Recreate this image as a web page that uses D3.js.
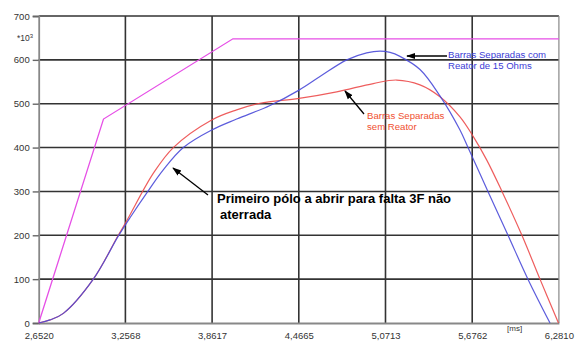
<!DOCTYPE html>
<html>
<head>
<meta charset="utf-8">
<script src="https://cdn.jsdelivr.net/npm/d3@7"></script>
<style>
  html, body { margin: 0; padding: 0; background: #fff; }
  svg { display: block; font-family: "Liberation Sans", Arial, sans-serif; }
</style>
</head>
<body>
<svg id="chart" width="576" height="342"></svg>
<script>
// Time axis ticks [ms] and their printed labels
const xTickValues = [2.6520, 3.2568, 3.8617, 4.4665, 5.0713, 5.6762, 6.2810];
const xTickLabels = ["2,6520", "3,2568", "3,8617", "4,4665", "5,0713", "5,6762", "6,2810"];
const yTickValues = [0, 100, 200, 300, 400, 500, 600, 700];

// Envelope (magenta)
const envelopeT = [2.652, 3.104, 4.007, 6.281];
const envelopeV = [0, 465, 648, 648];

// Barras Separadas com Reator de 15 Ohms (blue)
const blueT = [2.652, 2.731, 2.824, 3.033, 3.207, 3.289, 3.405, 3.521, 3.661, 3.859, 4.033, 4.266, 4.468, 4.614, 4.801, 4.940, 5.033, 5.103, 5.172, 5.312, 5.451, 5.591, 5.647, 5.786, 5.926, 6.065, 6.219];
const blueV = [0, 7, 22, 100, 198, 240, 296, 349, 400, 440, 465, 496, 531, 562, 600, 616, 620, 617, 608, 578, 518, 440, 400, 300, 200, 100, 0];

// Barras Separadas sem Reator (red)
const redT = [2.652, 2.731, 2.824, 3.033, 3.207, 3.266, 3.451, 3.591, 3.859, 4.033, 4.196, 4.468, 4.731, 4.986, 5.149, 5.312, 5.451, 5.591, 5.684, 5.777, 5.884, 6.023, 6.149, 6.278];
const redV = [0, 7, 22, 100, 200, 233, 341, 400, 463, 486, 501, 512, 527, 546, 554, 543, 516, 470, 425, 372, 300, 200, 100, 0];

const svg = d3.select("#chart");
const x = d3.scaleLinear().domain([2.652, 6.281]).range([38.7, 558.9]);
const y = d3.scaleLinear().domain([0, 700]).range([323, 16]);

// horizontal grid
svg.append("g")
  .selectAll("line").data(yTickValues.slice(1)).join("line")
  .attr("x1", x.range()[0]).attr("x2", x.range()[1])
  .attr("y1", d => y(d)).attr("y2", d => y(d))
  .attr("stroke", "#333").attr("stroke-width", 1.6);

// vertical grid
svg.append("g")
  .selectAll("line").data(xTickValues.slice(1, -1)).join("line")
  .attr("x1", d => x(d)).attr("x2", d => x(d))
  .attr("y1", y(0)).attr("y2", y(700))
  .attr("stroke", "#333").attr("stroke-width", 1.6);

// right border
svg.append("line")
  .attr("x1", x.range()[1]).attr("x2", x.range()[1])
  .attr("y1", y(0)).attr("y2", y(700))
  .attr("stroke", "#888").attr("stroke-width", 1.2);

// y axis
const yAxis = svg.append("g")
  .attr("transform", `translate(${x.range()[0]},0)`)
  .call(d3.axisLeft(y).tickValues(yTickValues).tickSize(6).tickPadding(3));
yAxis.select(".domain").attr("stroke", "#888").attr("stroke-width", 1.8);
yAxis.selectAll(".tick line").attr("stroke", "#666").attr("stroke-width", 1.4);
yAxis.selectAll(".tick text").attr("fill", "#333").style("font-size", "9.5px")
  .style("font-family", "'Liberation Sans', Arial, sans-serif");

// x axis
const xAxis = svg.append("g")
  .attr("transform", `translate(0,${y(0)})`)
  .call(d3.axisBottom(x).tickValues(xTickValues)
    .tickFormat((d, i) => xTickLabels[i]).tickSize(0).tickPadding(9));
xAxis.select(".domain").attr("stroke", "#888").attr("stroke-width", 1.8);
xAxis.selectAll(".tick text").attr("fill", "#333").style("font-size", "9.5px")
  .style("font-family", "'Liberation Sans', Arial, sans-serif");

// axis annotations
const mult = svg.append("text").attr("x", 17).attr("y", 41)
  .attr("fill", "#333").style("font-size", "8.5px").text("*10");
mult.append("tspan").attr("dy", -3).style("font-size", "6px").text("3");
svg.append("text").attr("x", 507).attr("y", 331)
  .attr("fill", "#333").style("font-size", "8px").text("[ms]");

// curves
const smooth = d3.line().x(d => x(d[0])).y(d => y(d[1])).curve(d3.curveCatmullRom.alpha(0.5));
const straight = d3.line().x(d => x(d[0])).y(d => y(d[1]));

svg.append("path").datum(envelopeT.map((t, i) => [t, envelopeV[i]]))
  .attr("d", straight).attr("fill", "none")
  .attr("stroke", "#e64fe6").attr("stroke-width", 1.3);
svg.append("path").datum(redT.map((t, i) => [t, redV[i]]))
  .attr("d", smooth).attr("fill", "none")
  .attr("stroke", "#ec4b4b").attr("stroke-width", 1.2).attr("stroke-opacity", 0.9);
svg.append("path").datum(blueT.map((t, i) => [t, blueV[i]]))
  .attr("d", smooth).attr("fill", "none")
  .attr("stroke", "#4a4ad8").attr("stroke-width", 1.2).attr("stroke-opacity", 0.9);

// arrows
const defs = svg.append("defs");
defs.append("marker").attr("id", "head")
  .attr("viewBox", "0 0 10 10").attr("refX", 9).attr("refY", 5)
  .attr("markerWidth", 7).attr("markerHeight", 7).attr("orient", "auto")
  .append("path").attr("d", "M0,1.5 L10,5 L0,8.5 Z").attr("fill", "#000");

const arrows = [
  [447, 56, 407, 56],
  [364, 114, 345, 91],
  [208, 195, 173, 168]
];
svg.append("g").selectAll("line").data(arrows).join("line")
  .attr("x1", d => d[0]).attr("y1", d => d[1])
  .attr("x2", d => d[2]).attr("y2", d => d[3])
  .attr("stroke", "#000").attr("stroke-width", 1.3)
  .attr("marker-end", "url(#head)");

// labels
const blueLbl = svg.append("text").attr("fill", "#3b3bd6").style("font-size", "9.6px");
blueLbl.append("tspan").attr("x", 448).attr("y", 58).text("Barras Separadas com");
blueLbl.append("tspan").attr("x", 448).attr("y", 69).text("Reator de  15 Ohms");

const redLbl = svg.append("text").attr("fill", "#f05030").style("font-size", "9.6px");
redLbl.append("tspan").attr("x", 367).attr("y", 119).text("Barras Separadas");
redLbl.append("tspan").attr("x", 367).attr("y", 130).text("sem Reator");

const noteLbl = svg.append("text").attr("fill", "#000").style("font-size", "13px").style("font-weight", "bold");
noteLbl.append("tspan").attr("x", 217).attr("y", 203).text("Primeiro pólo a abrir para falta 3F não");
noteLbl.append("tspan").attr("x", 220).attr("y", 219).text("aterrada");
</script>
</body>
</html>
